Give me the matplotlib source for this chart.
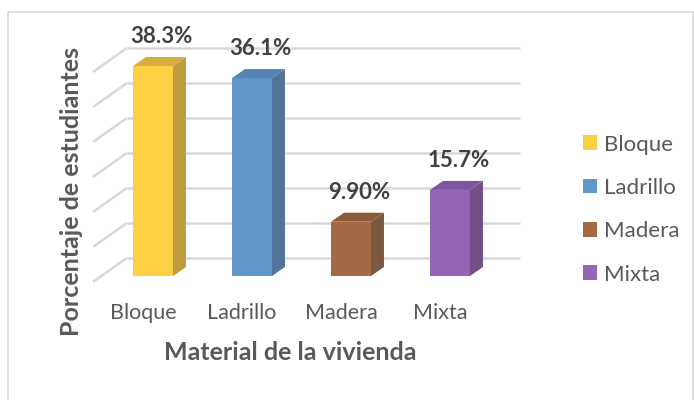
import numpy as np
import matplotlib.pyplot as plt
from matplotlib.patches import Polygon, Patch, Rectangle

plt.rcParams['font.family'] = ['Lato', 'DejaVu Sans']

categories = ["Bloque", "Ladrillo", "Madera", "Mixta"]
values = [38.3, 36.1, 9.9, 15.7]
labels = ["38.3%", "36.1%", "9.90%", "15.7%"]
front = ["#FDD043", "#6196CB", "#A36A45", "#9564B5"]
top = ["#D4AE3F", "#5484B6", "#8B5B3C", "#7E55A0"]
side = ["#BF9C40", "#52749A", "#7B5840", "#715089"]

# back wall gridline levels (in front-face percent units, perspective shifted)
wall_levels = 3.3 + 6.38 * np.arange(7)

fig = plt.figure(figsize=(6.94, 4.0), dpi=100)
ax = fig.add_axes([0, 0, 1, 1])
ax.set_xlim(-153 / 99, (694 - 153) / 99)
ax.set_ylim((276 - 400) / 5.483, 276 / 5.483)
ax.axis("off")

w = 0.404      # bar width
dx, dy = 0.131, 1.64   # depth offset

grid_c = "#D9D9D9"
for g in wall_levels:
    ax.plot([-0.263, 3.707], [g, g], color=grid_c, lw=1.8, zorder=1,
            solid_capstyle="butt")
    ax.plot([-0.606, -0.263], [g - 4.38, g], color=grid_c, lw=1.8, zorder=1,
            solid_capstyle="butt")

for i, v in enumerate(values):
    x0, x1 = i - w / 2, i + w / 2
    ax.add_patch(Polygon([(x0, 0), (x1, 0), (x1, v), (x0, v)],
                         closed=True, fc=front[i], ec="none", zorder=3))
    ax.add_patch(Polygon([(x1, 0), (x1 + dx, dy), (x1 + dx, v + dy), (x1, v)],
                         closed=True, fc=side[i], ec="none", zorder=3))
    ax.add_patch(Polygon([(x0, v), (x1, v), (x1 + dx, v + dy), (x0 + dx, v + dy)],
                         closed=True, fc=top[i], ec="none", zorder=3))
    ax.text(i + 0.085, v + 5.4, labels[i], ha="center", va="center",
            fontsize=16, fontweight="bold", color="#404040", zorder=4)
    ax.text(i - 0.1, -6.75, categories[i], ha="center", va="center",
            fontsize=15.5, color="#595959")

fig.text(290 / 694, 1 - 353 / 400, "Material de la vivienda", ha="center",
         va="center", fontsize=18, fontweight="bold", color="#595959")
fig.text(72 / 694, 1 - 192 / 400, "Porcentaje de estudiantes", ha="center",
         va="center", rotation=90, fontsize=18, fontweight="bold",
         color="#595959")

handles = [Patch(fc=c, ec="none") for c in front]
fig.legend(handles, categories, loc="center left",
           bbox_to_anchor=(583 / 694, 1 - 209.5 / 400), frameon=False,
           fontsize=16, labelcolor="#595959", handlelength=0.63,
           handleheight=0.63, handletextpad=0.3, labelspacing=1.05,
           borderpad=0, borderaxespad=0)

fig.patches.append(Rectangle((8 / 694, -0.05), 685 / 694, 1.05 - 12 / 400,
                             transform=fig.transFigure, fill=False,
                             ec="#D9D9D9", lw=1.2))

fig.savefig("out.png", dpi=100)
